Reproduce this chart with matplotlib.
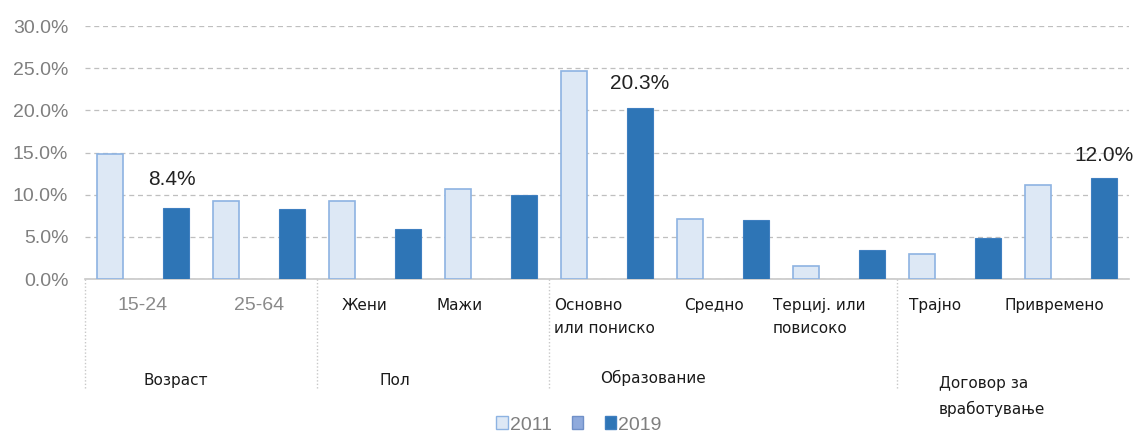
import matplotlib
matplotlib.use("Agg")
import matplotlib.pyplot as plt
from matplotlib.patches import Patch
from matplotlib.transforms import blended_transform_factory
from matplotlib.lines import Line2D
import numpy as np

categories = ["15-24", "25-64", "Жени", "Мажи", "Основно\nили пониско", "Средно",
              "Терциј. или\nповисоко", "Трајно", "Привремено"]
groups = ["Возраст", "Пол", "Образование", "Договор за\nвработување"]
v2011 = [14.8, 9.3, 9.3, 10.7, 24.7, 7.1, 1.5, 3.0, 11.1]
v2019 = [8.4, 8.3, 5.9, 10.0, 20.3, 7.0, 3.4, 4.9, 12.0]
labels_shown = {0: "8.4%", 4: "20.3%", 8: "12.0%"}
series_names = ["2011", "", "2019"]
yticks = [0, 5, 10, 15, 20, 25, 30]

narrow = ["Liberation Sans", "DejaVu Sans"]
cyr = ["DejaVu Sans"]

fig = plt.figure(figsize=(11.38, 4.34), dpi=100)
ax = fig.add_axes([85/1138, 1-279/434, (1129-85)/1138, 253/434])

x = np.arange(len(categories))
off = 0.284
w = 0.224
c11_face, c11_edge = "#dde8f5", "#8db3e2"
c19 = "#2e75b6"
cmid = "#8faadc"
ax.bar(x - off, v2011, w, color=c11_face, edgecolor=c11_edge, linewidth=1.2, zorder=3)
ax.bar(x + off, v2019, w, color=c19, edgecolor="#3f7fc0", linewidth=0.8, zorder=3)

ax.set_xlim(-0.5, len(categories) - 0.5)
ax.set_ylim(0, 30)
ax.set_yticks(yticks)
ax.set_yticklabels([f"{t:.1f}%" for t in yticks], fontfamily=narrow, fontsize=14, color="#7f7f7f")
ax.tick_params(axis="y", length=0, pad=12)
ax.tick_params(axis="x", length=0, labelbottom=False)
ax.grid(axis="y", linestyle=(0, (4, 3)), color="#bfbfbf", linewidth=0.9, zorder=0)
for s in ["top", "right", "left"]:
    ax.spines[s].set_visible(False)
ax.spines["bottom"].set_color("#c8c8c8")
ax.spines["bottom"].set_linewidth(1.2)

lab_off = {0: (-3, 14), 4: (0, 11), 8: (0, 9)}
for i, txt in labels_shown.items():
    ax.annotate(txt, (x[i] + off, v2019[i]), xytext=lab_off[i], textcoords="offset points",
                ha="center", va="bottom", fontsize=15, fontfamily=narrow, color="#222222")

tr = blended_transform_factory(ax.transData, ax.transAxes)

# category labels
cat_off = [0, 0, -0.09, -0.27, -0.02, -0.08, -0.17, -0.17, -0.14]
for i, lab in enumerate(categories):
    if i < 2:
        ax.text(x[i] + cat_off[i], -0.07, lab, transform=tr, ha="center", va="top",
                fontsize=14, fontfamily=narrow, color="#8a8a8a")
    else:
        ax.text(x[i] + cat_off[i], -0.075, lab, transform=tr, ha="center", va="top",
                fontsize=11, fontfamily=cyr, color="#1a1a1a", linespacing=1.65,
                multialignment="left")

group_pos = [0.28, 2.17, 4.40, 6.86]
group_y = [-0.37, -0.37, -0.36, -0.385]
for gx, gy, g in zip(group_pos, group_y, groups):
    ax.text(gx, gy, g, transform=tr, ha="center" if "\n" not in g else "left", va="top",
            fontsize=11, fontfamily=cyr, color="#1a1a1a", linespacing=1.75)

for sx in [-0.5, 1.5, 3.5, 6.5]:
    ax.add_line(Line2D([sx, sx], [0, -0.44], transform=tr, clip_on=False,
                       color="#c8c8c8", linestyle=(0, (1, 1.5)), linewidth=1.0))

handles = [Patch(facecolor=c11_face, edgecolor=c11_edge, label=series_names[0]),
           Patch(facecolor=cmid, edgecolor="#7090c8", label=series_names[1]),
           Patch(facecolor=c19, edgecolor="#3f7fc0", label=series_names[2])]
leg = fig.legend(handles=handles, loc="center", bbox_to_anchor=(579/1138, 1-425/434), ncol=3,
                 frameon=False, handlelength=0.6, handleheight=0.6, handletextpad=0.1,
                 columnspacing=1.0, prop={"family": narrow, "size": 14})
for t in leg.get_texts():
    t.set_color("#7f7f7f")

fig.savefig("out.png", dpi=100)
